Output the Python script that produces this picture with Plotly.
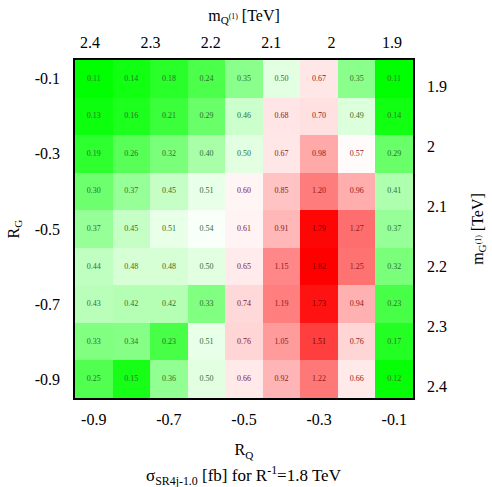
import plotly.graph_objects as go

r_q = [-0.9, -0.8, -0.7, -0.6, -0.5, -0.4, -0.3, -0.2, -0.1]
r_g = [-0.1, -0.2, -0.3, -0.4, -0.5, -0.6, -0.7, -0.8, -0.9]

sigma = [
    [0.11, 0.14, 0.18, 0.24, 0.35, 0.50, 0.67, 0.35, 0.11],
    [0.13, 0.16, 0.21, 0.29, 0.46, 0.68, 0.70, 0.49, 0.14],
    [0.19, 0.26, 0.32, 0.40, 0.50, 0.67, 0.98, 0.57, 0.29],
    [0.30, 0.37, 0.45, 0.51, 0.60, 0.85, 1.20, 0.96, 0.41],
    [0.37, 0.45, 0.51, 0.54, 0.61, 0.91, 1.79, 1.27, 0.37],
    [0.44, 0.48, 0.48, 0.50, 0.65, 1.15, 1.82, 1.25, 0.32],
    [0.43, 0.42, 0.42, 0.33, 0.74, 1.19, 1.73, 0.94, 0.23],
    [0.33, 0.34, 0.23, 0.51, 0.76, 1.05, 1.51, 0.76, 0.17],
    [0.25, 0.15, 0.36, 0.50, 0.66, 0.92, 1.22, 0.66, 0.12],
]

x_ticks = [-0.9, -0.7, -0.5, -0.3, -0.1]
y_ticks = [-0.1, -0.3, -0.5, -0.7, -0.9]
mq_ticks = [2.4, 2.3, 2.2, 2.1, 2.0, 1.9]
mq_labels = ["2.4", "2.3", "2.2", "2.1", "2", "1.9"]
mg_ticks = [1.9, 2.0, 2.1, 2.2, 2.3, 2.4]
mg_labels = ["1.9", "2", "2.1", "2.2", "2.3", "2.4"]

zmin, zwhite, zmax = 0.11, 0.55, 1.82
wpos = (zwhite - zmin) / (zmax - zmin)

FONT = "Liberation Serif"

fig = go.Figure()
fig.add_trace(go.Heatmap(
    x=r_q, y=r_g, z=sigma, zmin=zmin, zmax=zmax,
    colorscale=[[0, "rgb(0,255,0)"], [wpos, "rgb(255,255,255)"], [1, "rgb(255,0,0)"]],
    showscale=False, hoverinfo="skip",
))

tx, ty, tt, tc = [], [], [], []
for i, yv in enumerate(r_g):
    for j, xv in enumerate(r_q):
        v = sigma[i][j]
        tx.append(xv); ty.append(yv); tt.append(f"{v:.2f}")
        if v < zwhite:
            tc.append("#2f6f2f")
        elif v < 1.4:
            tc.append("#8a1a22")
        else:
            tc.append("#6e0008")
fig.add_trace(go.Scatter(
    x=tx, y=ty, text=tt, mode="text",
    textfont=dict(size=8, color=tc, family=FONT),
    hoverinfo="skip", showlegend=False,
))
fig.add_trace(go.Scatter(x=[2.0], y=[2.0], xaxis="x2", yaxis="y2", mode="markers",
                         marker=dict(opacity=0), showlegend=False, hoverinfo="skip"))

tickfont = dict(family=FONT, size=16, color="black")
titlefont = dict(family=FONT, size=16, color="black")
fig.update_layout(
    width=492, height=487,
    margin=dict(l=75, r=79, t=60, b=89, autoexpand=False),
    plot_bgcolor="white", paper_bgcolor="white",
    showlegend=False,
    font=dict(family=FONT, size=16, color="black"),
    xaxis=dict(range=[-0.95, -0.05], tickvals=x_ticks, ticktext=[str(v) for v in x_ticks],
               showgrid=False, zeroline=False, showline=True, linecolor="black", linewidth=1.5,
               mirror=True, ticks="", tickfont=tickfont, automargin=False, ticklabelstandoff=6,
               title=dict(text="R<sub>Q</sub>", font=titlefont, standoff=17)),
    yaxis=dict(range=[-0.95, -0.05], tickvals=y_ticks, ticktext=[str(v) for v in y_ticks],
               showgrid=False, zeroline=False, showline=True, linecolor="black", linewidth=1.5,
               mirror=True, ticks="", tickfont=tickfont, ticklabelstandoff=10, automargin=False,
               title=dict(text="R<sub>G</sub>", font=titlefont, standoff=11)),
    xaxis2=dict(overlaying="x", side="top", range=[2.4248, 1.8652], tickvals=mq_ticks,
                ticktext=mq_labels, showgrid=False, zeroline=False, ticks="", tickfont=tickfont,
                ticklabelstandoff=8, automargin=False,
                title=dict(text="m<sub>Q<sup>(1)</sup></sub> [TeV]", font=titlefont, standoff=8)),
    yaxis2=dict(overlaying="y", side="right", range=[2.4188, 1.8567], tickvals=mg_ticks,
                ticktext=mg_labels, showgrid=False, zeroline=False, ticks="", tickfont=tickfont,
                ticklabelstandoff=13, automargin=False,
                title=dict(text="m<sub>G<sup>(1)</sup></sub> [TeV]", font=titlefont, standoff=25)),
    annotations=[dict(text="σ<sub>SR4j-1.0</sub> [fb] for R<sup>-1</sup>=1.8 TeV",
                      xref="paper", yref="paper", x=0.5, y=-0.228, yanchor="middle",
                      showarrow=False, font=dict(family=FONT, size=17, color="black"))],
)

fig.write_html("out.html", config={"displayModeBar": False},
               post_script="document.body.style.margin='0';document.body.style.padding='0';")
